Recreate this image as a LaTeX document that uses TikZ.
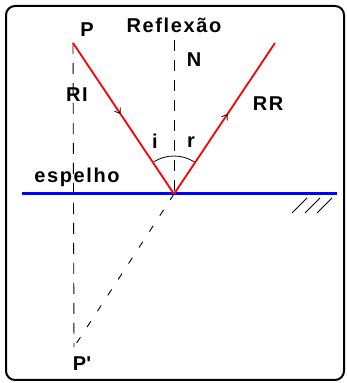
\documentclass[tikz,border=0pt]{standalone}
\usepackage{fontspec}
\setmainfont{Liberation Sans}[LetterSpace=8]
\usetikzlibrary{arrows.meta,decorations.markings}

\begin{document}
\begin{tikzpicture}[x=1pt, y=1pt,
  font=\fontsize{20}{24}\selectfont\bfseries,
  lbl/.style   ={inner sep=0pt, text=black},
  ray/.style   ={red, line width=1.8pt},
  mirror/.style={blue, line width=3pt},
  guide/.style ={black, line width=0.9pt, dash pattern=on 11pt off 9pt},
  virt/.style  ={black, line width=0.9pt, dash pattern=on 7pt off 12pt},
  hatch/.style ={black, line width=1pt},
  tip/.style   ={postaction={decorate}, decoration={markings,
                 mark=at position #1 with {\arrow[black, line width=0.8pt]{Straight Barb[length=5pt, width=7pt]}}}},
]
\useasboundingbox (0,0) rectangle (347,383);

% === Frame ===
\draw[line width=2pt, rounded corners=9pt] (6,3) rectangle (344,377);

% === Points ===
\coordinate (P)  at (73,340);
\coordinate (O)  at (174,189);
\coordinate (Rt) at (275,340);
\coordinate (Pv) at (74,36);
\coordinate (Nt) at (174,343);
\coordinate (Ml) at (22,189);
\coordinate (Mr) at (337,189);

% === Guide lines ===
\draw[guide] (Nt) -- (O);
\draw[guide] (P) -- (Pv);
\draw[virt] (O) -- (Pv);

% === Mirror ===
\draw[mirror] (Ml) -- (Mr);
\foreach \hx in {292,305,317}
  \draw[hatch] (\hx,170) -- ++(15,15);

% === Rays ===
\draw[ray, tip=0.47] (P) -- (O);
\draw[ray, tip=0.53] (O) -- (Rt);

% === Angles ===
\draw[line width=0.8pt] (O) ++(122:38) arc[start angle=122, end angle=90, radius=38];
\draw[line width=0.8pt] (O) ++(90:38) arc[start angle=90, end angle=58, radius=38];

% === Labels ===
\node[lbl] (title) at (174,358) {Reflexão};
\node[lbl] (lP)    at (87,353)  {P};
\node[lbl] (lN)    at (194,323) {N};
\node[lbl] (lRI)   at (77,288)  {RI};
\node[lbl] (lRR)   at (268,279) {RR};
\node[lbl] (li)    at (155,242) {i};
\node[lbl] (lr)    at (191,241) {r};
\node[lbl] (lesp)  at (77,206)  {espelho};
\node[lbl] (lPv)   at (82,19)   {P\textquotesingle};

\end{tikzpicture}
\end{document}
